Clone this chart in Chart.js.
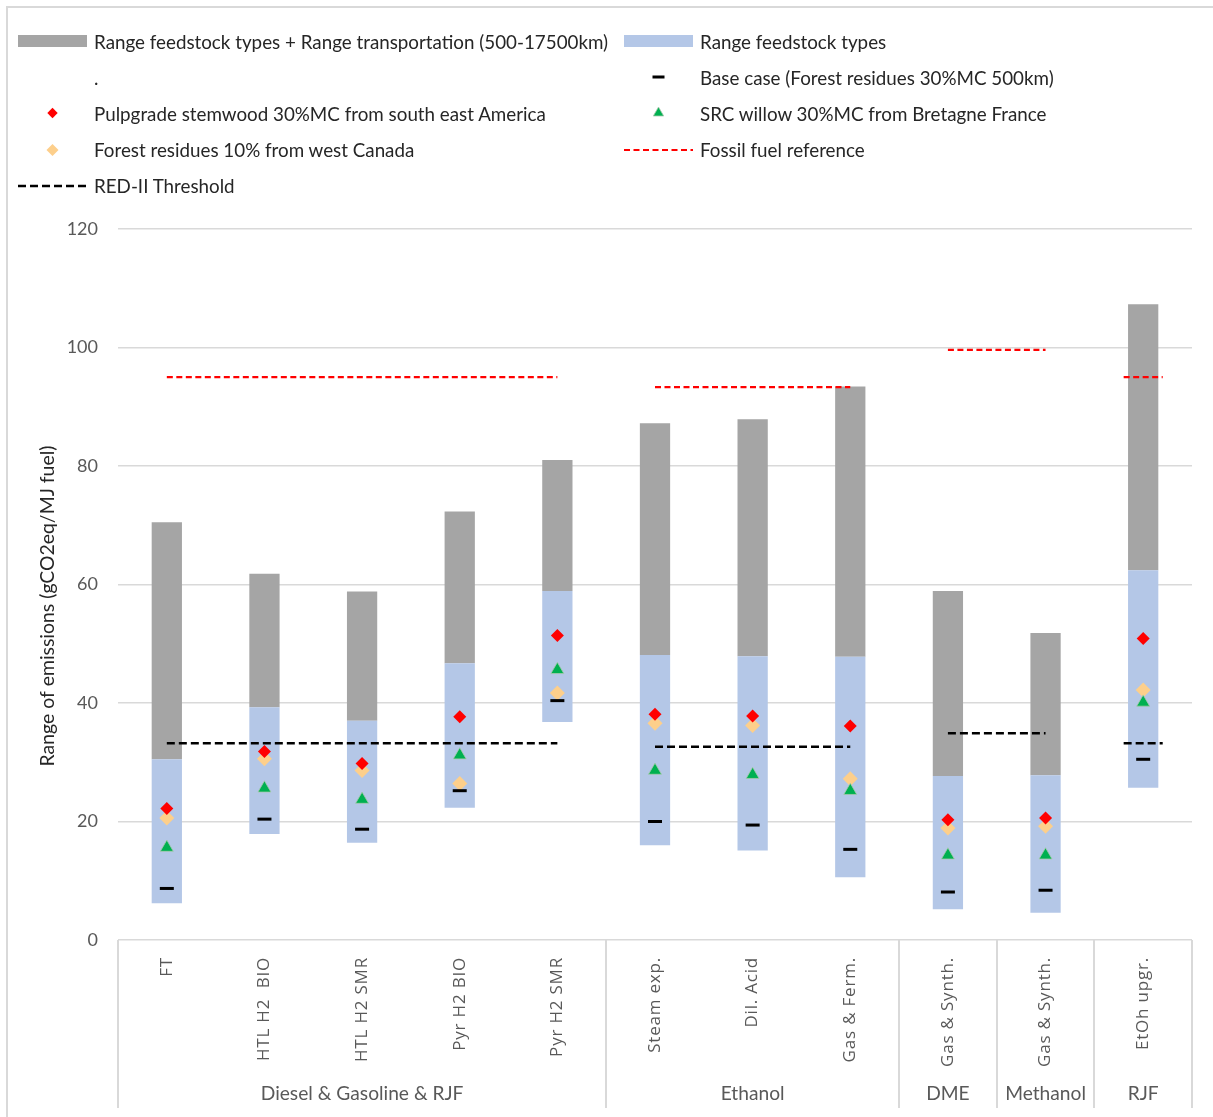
<!DOCTYPE html>
<html>
<head>
<meta charset="utf-8">
<title>Range of emissions</title>
<script src="https://cdn.jsdelivr.net/npm/chart.js@4/dist/chart.umd.min.js"></script>
<style>
  html, body { margin: 0; padding: 0; background: #fff; }
  #wrap { position: relative; width: 1213px; height: 1117px; overflow: hidden; background: #fff; }
  #frame { position: absolute; left: 6px; top: 6px; width: 1240px; height: 1140px;
           border: 2px solid #d9d9d9; box-sizing: border-box; }
  #chart { position: absolute; left: 0; top: 0; }
  #legend { position: absolute; left: 18px; top: 23px; display: grid;
            grid-template-columns: 606px 560px; grid-auto-rows: 36.2px;
            font-family: Lato, "Open Sans", sans-serif; font-size: 18.8px; color: #262626; }
  #legend .item { display: flex; align-items: center; white-space: pre; }
  #legend svg { flex: none; margin-right: 7px; }
</style>
</head>
<body>
<div id="wrap">
  <div id="frame"></div>
  <canvas id="chart" width="1213" height="1117"></canvas>
  <div id="legend"></div>
</div>
<script>
// Pathways on the x axis and the fuel group each one belongs to
const categories = ['FT', 'HTL H2  BIO', 'HTL H2 SMR', 'Pyr H2 BIO', 'Pyr H2 SMR',
                    'Steam exp.', 'Dil. Acid', 'Gas & Ferm.', 'Gas & Synth.', 'Gas & Synth.', 'EtOh upgr.'];
const groupNames = ['Diesel & Gasoline & RJF', 'Ethanol', 'DME', 'Methanol', 'RJF'];
const groupSizes = [5, 3, 1, 1, 1];

// Emission ranges (gCO2eq/MJ fuel)
const feedstockLow  = [6.2, 17.9, 16.4, 22.3, 36.8, 16.0, 15.1, 10.6, 5.2, 4.6, 25.7];
const feedstockHigh = [30.5, 39.3, 37.0, 46.7, 58.9, 48.1, 47.9, 47.8, 27.7, 27.8, 62.4];
const transportHigh = [70.5, 61.8, 58.8, 72.3, 81.0, 87.2, 87.9, 93.4, 58.9, 51.8, 107.3];

// Individual feedstock cases
const baseCase       = [8.7, 20.4, 18.7, 25.2, 40.4, 20.0, 19.4, 15.3, 8.1, 8.4, 30.5];
const pulpgrade      = [22.2, 31.8, 29.8, 37.7, 51.4, 38.1, 37.8, 36.1, 20.3, 20.6, 50.9];
const srcWillow      = [15.6, 25.6, 23.7, 31.2, 45.6, 28.6, 27.9, 25.2, 14.3, 14.3, 40.1];
const residuesCanada = [20.6, 30.6, 28.6, 26.4, 41.7, 36.6, 36.2, 27.2, 18.9, 19.2, 42.2];

// Reference lines: first and last pathway index covered, and the level
const fossilStart = [0, 5, 8, 10];
const fossilEnd   = [4, 7, 9, 10];
const fossilValue = [95.0, 93.3, 99.6, 95.0];
const redStart = [0, 5, 8, 10];
const redEnd   = [4, 7, 9, 10];
const redValue = [33.2, 32.6, 34.9, 33.2];

const yTicks = [0, 20, 40, 60, 80, 100, 120];
const yTitle = 'Range of emissions (gCO2eq/MJ fuel)';

// A reference line covering one pathway only is widened a little past the bar
const SINGLE_PAD = 0.2;
function segments(starts, ends, values) {
  const pts = [];
  starts.forEach((s, i) => {
    const pad = s === ends[i] ? SINGLE_PAD : 0;
    pts.push({x: s - pad, y: values[i]}, {x: ends[i] + pad, y: values[i]}, {x: ends[i] + pad, y: null});
  });
  return pts;
}

const GREY = '#a5a5a5', BLUE = '#b4c7e7', RED = '#ff0000', GREEN = '#00b050', ORANGE = '#fdcf8b';
const TEXT = '#595959', DARK = '#262626';
const FONT = 'Lato, "Open Sans", sans-serif';

const markerBase = {type: 'line', showLine: false, xAxisID: 'x', yAxisID: 'y', order: 1};
const lineBase = {type: 'line', xAxisID: 'xl', yAxisID: 'y', pointRadius: 0, spanGaps: false, fill: false, order: 2};

const datasets = [
  {type: 'bar', label: 'Range feedstock types + Range transportation (500-17500km)',
   data: feedstockHigh.map((v, i) => [v, transportHigh[i]]), backgroundColor: GREY,
   grouped: false, barPercentage: 0.31, categoryPercentage: 1, order: 10, sym: 'rect'},
  {type: 'bar', label: 'Range feedstock types',
   data: feedstockLow.map((v, i) => [v, feedstockHigh[i]]), backgroundColor: BLUE,
   grouped: false, barPercentage: 0.31, categoryPercentage: 1, order: 9, sym: 'rect'},
  {...markerBase, label: '.', data: [], pointRadius: 0, sym: 'none'},
  {...markerBase, label: 'Base case (Forest residues 30%MC 500km)', data: baseCase,
   pointStyle: 'line', pointRadius: 7, borderColor: '#000', pointBorderWidth: 3, sym: 'dash'},
  {...markerBase, label: 'Pulpgrade stemwood 30%MC from south east America', data: pulpgrade,
   pointStyle: 'rectRot', pointRadius: 6.5, backgroundColor: RED, borderColor: RED, pointBorderWidth: 0, sym: 'diamond'},
  {...markerBase, label: 'SRC willow 30%MC from Bretagne France', data: srcWillow,
   pointStyle: 'triangle', pointRadius: 7.5, backgroundColor: GREEN, borderColor: '#a9c9ae', pointBorderWidth: 0.8, sym: 'triangle'},
  {...markerBase, label: 'Forest residues 10% from west Canada', data: residuesCanada,
   pointStyle: 'rectRot', pointRadius: 7.5, backgroundColor: ORANGE, borderColor: ORANGE, pointBorderWidth: 0, sym: 'diamond'},
  {...lineBase, label: 'Fossil fuel reference', data: segments(fossilStart, fossilEnd, fossilValue),
   borderColor: RED, borderWidth: 2.2, borderDash: [6, 3.5], sym: 'dashline'},
  {...lineBase, label: 'RED-II Threshold', data: segments(redStart, redEnd, redValue),
   borderColor: '#000', borderWidth: 2.5, borderDash: [8, 4], sym: 'dashline'}
];

// Second-level axis (fuel groups with separators) and the rotated y-axis title
const groupAxis = {
  id: 'groupAxis',
  afterDraw(chart) {
    const {ctx, chartArea, scales: {x}} = chart;
    const n = categories.length;
    const edge = i => i <= 0 ? chartArea.left : i >= n ? chartArea.right
      : (x.getPixelForValue(i - 1) + x.getPixelForValue(i)) / 2;
    ctx.save();
    ctx.strokeStyle = '#d9d9d9';
    ctx.lineWidth = 2;
    ctx.fillStyle = TEXT;
    ctx.font = '19.2px ' + FONT;
    ctx.textAlign = 'center';
    ctx.textBaseline = 'middle';
    let start = 0;
    const bounds = [0];
    groupNames.forEach((name, g) => {
      const a = edge(start), b = edge(start + groupSizes[g]);
      ctx.fillText(name, (a + b) / 2, x.bottom - 14);
      start += groupSizes[g];
      bounds.push(start);
    });
    bounds.forEach(i => {
      const px = Math.round(edge(i));
      ctx.beginPath();
      ctx.moveTo(px, chartArea.bottom);
      ctx.lineTo(px, x.bottom);
      ctx.stroke();
    });

    ctx.translate(48, chartArea.bottom - 334);
    ctx.rotate(-Math.PI / 2);
    ctx.fillStyle = DARK;
    ctx.font = '19.4px ' + FONT;
    ctx.fillText(yTitle, 0, 0);
    ctx.restore();
  }
};

const chart = new Chart(document.getElementById('chart'), {
  data: {labels: categories, datasets},
  options: {
    responsive: false,
    animation: false,
    events: [],
    layout: {padding: {top: 229, right: 21, bottom: 9, left: 0}},
    plugins: {legend: {display: false}, tooltip: {enabled: false}},
    scales: {
      x: {
        type: 'category',
        offset: true,
        grid: {display: false},
        border: {display: false},
        ticks: {autoSkip: false, minRotation: 90, maxRotation: 90, padding: 9,
                color: TEXT, font: {family: '"Open Sans", sans-serif', size: 17}},
        afterFit(scale) { scale.height = 168; },
        afterUpdate(scale) {
          // pathway labels are drawn slightly letter-spaced
          if (scale._spaced) return;
          scale._spaced = true;
          const draw = scale.drawLabels;
          scale.drawLabels = function (area) {
            this.ctx.save();
            this.ctx.letterSpacing = '0.8px';
            draw.call(this, area);
            this.ctx.restore();
          };
        }
      },
      xl: {type: 'linear', display: false, min: -0.5, max: 10.5},
      y: {
        min: 0, max: 120,
        afterBuildTicks(scale) { scale.ticks = yTicks.map(v => ({value: v})); },
        grid: {color: '#d9d9d9', lineWidth: 1.5, drawTicks: false},
        border: {display: false},
        ticks: {padding: 20, color: TEXT, font: {family: FONT, size: 18}},
        afterFit(scale) { scale.width = 118; }
      }
    }
  },
  plugins: [groupAxis]
});

// Legend in two columns, built from the chart's datasets
function symbol(ds) {
  const w = 69, h = 20, c = h / 2, m = w / 2;
  let body = '';
  switch (ds.sym) {
    case 'rect':
      body = `<rect x="0" y="${c - 6}" width="${w}" height="12" fill="${ds.backgroundColor}"/>`; break;
    case 'dash':
      body = `<rect x="${m - 6}" y="${c - 1.5}" width="12" height="3" fill="#000"/>`; break;
    case 'diamond': {
      const r = ds.pointRadius * 0.8;
      body = `<polygon points="${m},${c - r} ${m + r},${c} ${m},${c + r} ${m - r},${c}" fill="${ds.backgroundColor}"/>`; break;
    }
    case 'triangle': {
      const r = 6;
      body = `<polygon points="${m},${c - r} ${m + r * 0.87},${c + r / 2} ${m - r * 0.87},${c + r / 2}" fill="${ds.backgroundColor}" stroke="${ds.borderColor}" stroke-width="0.8"/>`; break;
    }
    case 'dashline':
      body = `<line x1="0" y1="${c}" x2="${w}" y2="${c}" stroke="${ds.borderColor}" stroke-width="${ds.borderWidth}" stroke-dasharray="${ds.borderDash.join(' ')}"/>`; break;
  }
  return `<svg width="${w}" height="${h}" viewBox="0 0 ${w} ${h}">${body}</svg>`;
}
const legendEl = document.getElementById('legend');
chart.data.datasets.forEach(ds => {
  const item = document.createElement('div');
  item.className = 'item';
  item.innerHTML = symbol(ds);
  const span = document.createElement('span');
  span.textContent = ds.label;
  item.appendChild(span);
  legendEl.appendChild(item);
});
</script>
</body>
</html>
